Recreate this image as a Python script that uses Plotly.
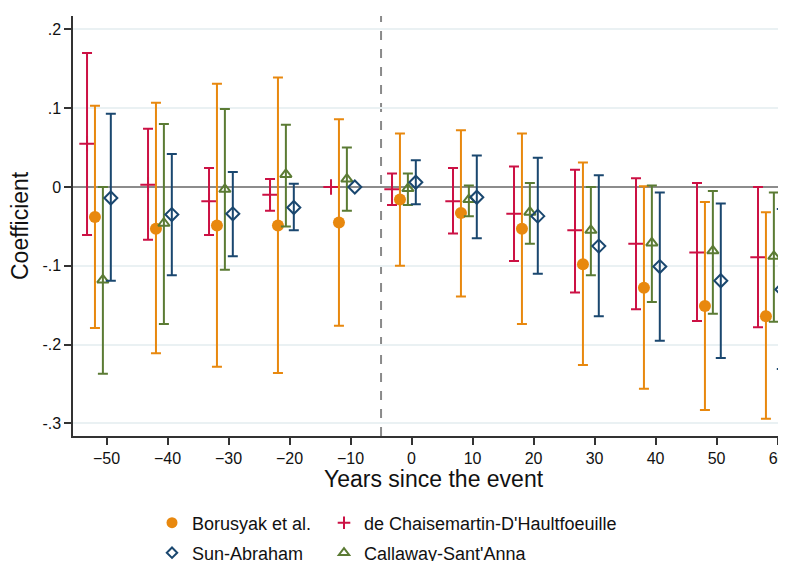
import numpy as np
import plotly.graph_objects as go

# ---- data ----
event_time = [-50, -40, -30, -20, -10, 0, 10, 20, 30, 40, 50, 60]

bjs_coef = [-0.038, -0.053, -0.049, -0.049, -0.045, -0.016, -0.033, -0.053, -0.098, -0.128, -0.151, -0.164]
bjs_lo = [-0.179, -0.211, -0.228, -0.236, -0.176, -0.100, -0.139, -0.174, -0.226, -0.256, -0.283, -0.294]
bjs_hi = [0.103, 0.107, 0.131, 0.139, 0.086, 0.068, 0.072, 0.068, 0.031, 0.001, -0.019, -0.032]

dcdh_coef = [0.055, 0.003, -0.018, -0.010, 0.0, -0.003, -0.018, -0.034, -0.055, -0.072, -0.083, -0.089]
dcdh_lo = [-0.061, -0.067, -0.061, -0.030, None, -0.023, -0.059, -0.094, -0.134, -0.155, -0.170, -0.178]
dcdh_hi = [0.170, 0.074, 0.024, 0.010, None, 0.017, 0.024, 0.026, 0.022, 0.011, 0.005, 0.000]

cs_coef = [-0.118, -0.046, -0.003, 0.016, 0.010, -0.002, -0.016, -0.032, -0.055, -0.071, -0.081, -0.088]
cs_lo = [-0.237, -0.174, -0.105, -0.050, -0.030, -0.023, -0.037, -0.072, -0.112, -0.146, -0.161, -0.171]
cs_hi = [0.000, 0.080, 0.099, 0.079, 0.050, 0.017, 0.002, 0.005, 0.000, 0.002, -0.005, -0.007]

sa_coef = [-0.014, -0.035, -0.034, -0.026, 0.0, 0.006, -0.013, -0.037, -0.075, -0.101, -0.119, -0.130]
sa_lo = [-0.119, -0.112, -0.088, -0.055, None, -0.022, -0.065, -0.110, -0.164, -0.195, -0.217, -0.231]
sa_hi = [0.093, 0.042, 0.019, 0.004, None, 0.034, 0.040, 0.037, 0.015, -0.007, -0.021, -0.028]

x_ticks = [-50, -40, -30, -20, -10, 0, 10, 20, 30, 40, 50, 60]
y_ticks = [0.2, 0.1, 0.0, -0.1, -0.2, -0.3]
y_ticktext = [".2", ".1", "0", "-.1", "-.2", "-.3"]

x_title = "Years since the event"
y_title = "Coefficient"

ORANGE = "#e8880e"
RED = "#cc1144"
GREEN = "#5b7b34"
NAVY = "#1a476f"

FONT = "Liberation Sans, Arial, sans-serif"
W, H = 778, 561
ML, MR, MT, MB = 65, 0, 8, 133
PW, PH = W - ML - MR, H - MT - MB


def arr(v):
    return np.array([np.nan if a is None else a for a in v], dtype=float)


def add_series(fig, name, coef, lo, hi, offset, color, symbol, size, lw, lsize, legend):
    x = np.array(event_time, dtype=float) + offset
    y = arr(coef)
    up = arr(hi) - y
    dn = y - arr(lo)
    fig.add_trace(go.Scatter(
        x=x, y=y, mode="markers", showlegend=False, name=name,
        marker=dict(symbol=symbol, size=size, color=color,
                    line=dict(color=color, width=lw)),
        error_y=dict(type="data", symmetric=False, array=up, arrayminus=dn,
                     color=color, thickness=2, width=5),
    ))
    fig.add_trace(go.Scatter(
        x=[None], y=[None], mode="markers", name=name, legend=legend,
        marker=dict(symbol=symbol, size=lsize, color=color,
                    line=dict(color=color, width=lw)),
    ))


fig = go.Figure()
add_series(fig, "de Chaisemartin-D'Haultfoeuille", dcdh_coef, dcdh_lo, dcdh_hi, -3.2,
           RED, "cross-thin", 11, 2, 9, "legend2")
add_series(fig, "Borusyak et al.", bjs_coef, bjs_lo, bjs_hi, -1.9,
           ORANGE, "circle", 12, 0, 11, "legend")
add_series(fig, "Callaway-Sant'Anna", cs_coef, cs_lo, cs_hi, -0.6,
           GREEN, "triangle-up-open", 10, 2, 9, "legend4")
add_series(fig, "Sun-Abraham", sa_coef, sa_lo, sa_hi, 0.7,
           NAVY, "diamond-open", 10, 2, 8, "legend3")

fig.add_shape(type="line", xref="x", yref="paper", x0=-5, x1=-5, y0=0, y1=1,
              line=dict(color="#8a8a8a", width=2, dash="dash"), layer="below")

fig.add_annotation(text=x_title, xref="paper", yref="paper",
                   x=(426 - ML) / PW, y=(PH + MT - 471) / PH,
                   xanchor="center", yanchor="middle", showarrow=False,
                   font=dict(size=23, family=FONT, color="#111111"))
fig.add_annotation(text=y_title, xref="paper", yref="paper",
                   x=(12 - ML) / PW, y=(PH + MT - 218) / PH, textangle=-90,
                   xanchor="center", yanchor="middle", showarrow=False,
                   font=dict(size=23, family=FONT, color="#111111"))


def leg(px_x, px_y):
    return dict(
        orientation="v", xref="container", yref="container",
        x=px_x / W, y=1 - px_y / H, xanchor="left", yanchor="middle",
        font=dict(size=18, family=FONT, color="#111111"),
        bgcolor="rgba(0,0,0,0)", borderwidth=0,
    )


fig.update_layout(
    width=W, height=H,
    margin=dict(l=ML, r=MR, t=MT, b=MB, autoexpand=False),
    paper_bgcolor="white", plot_bgcolor="white",
    font=dict(family=FONT, color="#111111"),
    xaxis=dict(
        range=[-55.5, 61.39], tickvals=x_ticks, ticks="outside", ticklen=7,
        tickwidth=1.5, tickcolor="#333333", showline=True, linecolor="#333333",
        linewidth=1.5, showgrid=False, zeroline=False, automargin=False,
        ticklabeloverflow="allow",
        tickfont=dict(size=16, family=FONT, color="#111111"),
    ),
    yaxis=dict(
        range=[-0.316, 0.217], tickvals=y_ticks, ticktext=y_ticktext,
        ticks="outside", ticklen=7, tickwidth=1.5, tickcolor="#333333",
        showline=True, linecolor="#333333", linewidth=1.5, automargin=False,
        showgrid=True, gridcolor="#eaf1f3", gridwidth=1.5,
        zeroline=True, zerolinecolor="#8c8c8c", zerolinewidth=2,
        tickfont=dict(size=16, family=FONT, color="#111111"),
    ),
    legend=leg(144, 515),
    legend2=leg(316, 515),
    legend3=leg(144, 545),
    legend4=leg(316, 545),
)

fig.write_html(
    "out.html",
    post_script="document.documentElement.style.overflow='hidden';"
                "document.body.style.overflow='hidden';",
)
